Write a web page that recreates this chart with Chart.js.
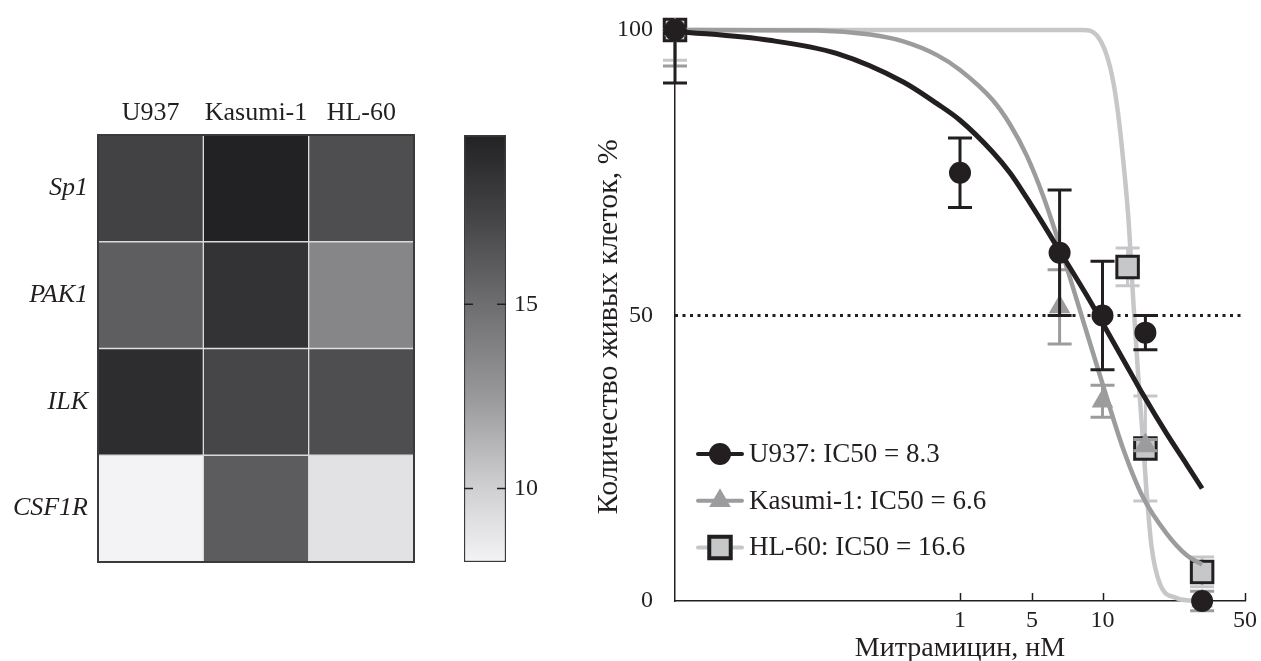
<!DOCTYPE html>
<html>
<head>
<meta charset="utf-8">
<script src="https://cdn.jsdelivr.net/npm/chart.js@4.4.1/dist/chart.umd.min.js"></script>
<style>
  body { margin: 0; background: #fff; width: 1261px; height: 661px; overflow: hidden; position: relative; }
  canvas { position: absolute; top: 0; }
  #heat { left: 0; }
  #cbar { left: 440px; }
  #dose { left: 560px; }
</style>
</head>
<body>
<canvas id="heat" width="430" height="600"></canvas>
<canvas id="cbar" width="120" height="600"></canvas>
<canvas id="dose" width="701" height="661"></canvas>
<script>
// ---- heatmap ----
const cellLines = ['U937', 'Kasumi-1', 'HL-60'];
const genes = ['Sp1', 'PAK1', 'ILK', 'CSF1R'];
const sp1Vals = [17.5, 19.6, 16.8];
const pak1Vals = [15.9, 18.5, 13.6];
const ilkVals = [18.9, 17.3, 16.8];
const csf1rVals = [8.0, 16.0, 9.0];

// colour bar
const cbMin = 8.0, cbMax = 19.6;
const cbTicks = [10, 15];
const cmapVals = [8, 10, 12.5, 15, 17.5, 19.6];
const cmapGray = [243, 208, 152, 110, 66, 34];

// ---- dose response ----
const xTickPos = [1, 3.2, 10, 100];
const xTickLabels = ['1', '5', '10', '50'];
const yTicks = [0, 50, 100];
const halfLevel = 50;

const u937Dose = [0.01, 1, 5, 10, 20, 50];
const u937Viab = [100, 75, 61, 50, 47, 0];
const u937Err = [9.3, 6.1, 11, 9.5, 3, 0];

const kasDose = [0.01, 5, 10, 20, 50];
const kasViab = [100, 51.5, 35, 27.3, 0];
const kasErr = [6.3, 6.5, 2.8, 1, 1.7];

const hlDose = [0.01, 15, 20, 50];
const hlViab = [100, 58.5, 26.7, 5.1];
const hlErr = [5.3, 3.3, 9.2, 2.6];

// fitted curves
const u937CurveX = [0.01, 0.046, 0.136, 0.4, 0.69, 1, 1.7, 2.24, 2.94, 3.84, 5.03, 7.8, 10.1, 13.9, 19.2, 28.2, 39, 50];
const u937CurveY = [99.8, 98.2, 95.9, 90.9, 87.1, 84.2, 78.6, 75.0, 70.6, 66.0, 61.2, 53.4, 48.5, 42.4, 36.2, 29.3, 23.9, 19.7];
const kasCurveX = [0.01, 0.1, 0.234, 0.4, 0.69, 1, 1.7, 2.24, 2.94, 3.84, 5.03, 7.8, 10.1, 13.9, 19.2, 28.2, 39, 50];
const kasCurveY = [100, 99.9, 99.2, 98.0, 95.6, 93.0, 87.7, 83.5, 78.0, 70.9, 62.2, 46.8, 37.7, 26.8, 18.2, 11.8, 8.0, 6.4];
const hlCurveX = [0.01, 7.3, 9.1, 10.7, 11.9, 12.9, 14.0, 15.2, 16.5, 17.8, 18.8, 20.4, 22.1, 25.3, 33.2, 41.1, 50];
const hlCurveY = [100, 100, 99.1, 95.6, 90.9, 85.1, 77, 67, 52, 39.5, 31.5, 19, 9.5, 3, 0.5, 0.1, 0];

const ink = '#231f20';
Chart.defaults.font.family = "'Liberation Serif', 'Times New Roman', serif";
Chart.defaults.color = ink;

function grayAt(v) {
    for (let i = 1; i < cmapVals.length; i++) {
        if (v <= cmapVals[i]) {
            const t = (v - cmapVals[i - 1]) / (cmapVals[i] - cmapVals[i - 1]);
            return cmapGray[i - 1] + t * (cmapGray[i] - cmapGray[i - 1]);
        }
    }
    return cmapGray[cmapGray.length - 1];
}
function cellColor(v) {
    const g = Math.round(grayAt(Math.max(v, cmapVals[0])));
    return `rgb(${g},${g},${Math.min(255, g + 2)})`;
}
const pts = (xs, ys) => xs.map((x, i) => ({x: x, y: ys[i]}));

// dark frame round the heatmap
const frame = {
    id: 'frame',
    afterDatasetsDraw(chart) {
        const {ctx, chartArea: a} = chart;
        ctx.save();
        ctx.strokeStyle = '#3a3a3a';
        ctx.lineWidth = 2;
        ctx.strokeRect(a.left, a.top, a.right - a.left, a.bottom - a.top);
        ctx.restore();
    }
};

const heatRows = [sp1Vals, pak1Vals, ilkVals, csf1rVals];
new Chart(document.getElementById('heat'), {
    type: 'bar',
    data: {
        labels: cellLines,
        datasets: heatRows.map((vals, r) => ({
            label: genes[r],
            data: vals.map(() => 1),
            backgroundColor: vals.map(cellColor),
            borderColor: '#dadada',
            borderWidth: 1,
            borderSkipped: false,
            barPercentage: 1,
            categoryPercentage: 1
        }))
    },
    options: {
        responsive: false, animation: false, devicePixelRatio: 1,
        layout: {autoPadding: false, padding: {left: 0, right: 16, top: 0, bottom: 38}},
        plugins: {legend: {display: false}, tooltip: {enabled: false}},
        scales: {
            x: {
                position: 'top', stacked: true,
                grid: {display: false, drawTicks: false}, border: {display: false},
                ticks: {autoSkip: false, padding: 6, font: {size: 26, lineHeight: 1.2}, maxRotation: 0},
                afterFit(s) { s.height = 135; }
            },
            y: {
                stacked: true, reverse: true, min: 0, max: 4,
                grid: {display: false, drawTicks: false}, border: {display: false},
                afterBuildTicks(s) { s.ticks = genes.map((g, i) => ({value: i + 0.5})); },
                ticks: {autoSkip: false, padding: 10, font: {size: 26, style: 'italic'}, callback: (v, i) => genes[i]},
                afterFit(s) { s.width = 98; }
            }
        }
    },
    plugins: [frame]
});

// colour bar with inward ticks on both sides
const cbTickMarks = {
    id: 'cbTickMarks',
    afterDraw(chart) {
        const {ctx, chartArea: a, scales: {y}} = chart;
        ctx.save();
        ctx.strokeStyle = ink;
        ctx.lineWidth = 1.5;
        cbTicks.forEach(v => {
            const py = y.getPixelForValue(v);
            ctx.beginPath();
            ctx.moveTo(a.left, py); ctx.lineTo(a.left + 9, py);
            ctx.moveTo(a.right - 9, py); ctx.lineTo(a.right, py);
            ctx.stroke();
        });
        ctx.restore();
    }
};

new Chart(document.getElementById('cbar'), {
    type: 'bar',
    data: {
        labels: [''],
        datasets: [{
            data: [[cbMin, cbMax]],
            backgroundColor(c) {
                const y = c.chart.scales.y;
                if (!y || !c.chart.chartArea) return '#888';
                const y0 = y.getPixelForValue(cbMin), y1 = y.getPixelForValue(cbMax);
                if (!isFinite(y0) || !isFinite(y1) || y0 === y1) return '#888';
                const g = c.chart.ctx.createLinearGradient(0, y0, 0, y1);
                cmapVals.forEach(v => {
                    g.addColorStop((v - cbMin) / (cbMax - cbMin), cellColor(v));
                });
                return g;
            },
            borderColor: '#3a3a3a',
            borderWidth: 1.5,
            borderSkipped: false,
            barPercentage: 1,
            categoryPercentage: 1
        }]
    },
    options: {
        responsive: false, animation: false, devicePixelRatio: 1,
        layout: {autoPadding: false, padding: {left: 24, right: 0, top: 135, bottom: 38}},
        plugins: {legend: {display: false}, tooltip: {enabled: false}},
        scales: {
            x: {display: false},
            y: {
                position: 'right', min: cbMin, max: cbMax,
                grid: {display: false, drawTicks: false}, border: {display: false},
                afterBuildTicks(s) { s.ticks = cbTicks.map(v => ({value: v})); },
                ticks: {padding: 8, font: {size: 24}},
                afterFit(s) { s.width = 54; }
            }
        }
    },
    plugins: [cbTickMarks]
});

// error bars, drawn just before each marker dataset
const errorBars = {
    id: 'errorBars',
    beforeDatasetDraw(chart, args) {
        const ds = chart.data.datasets[args.index];
        if (!ds.errors) return;
        const {ctx, scales: {x, y}} = chart;
        ctx.save();
        ctx.strokeStyle = ds.errorColor;
        ctx.lineWidth = 3;
        ds.data.forEach((p, i) => {
            const e = ds.errors[i];
            if (!e) return;
            const px = x.getPixelForValue(p.x);
            const top = y.getPixelForValue(Math.min(p.y + e, y.max));
            const bot = y.getPixelForValue(p.y - e);
            ctx.beginPath();
            ctx.moveTo(px, top); ctx.lineTo(px, bot);
            ctx.moveTo(px - 12, top); ctx.lineTo(px + 12, top);
            ctx.moveTo(px - 12, bot); ctx.lineTo(px + 12, bot);
            ctx.stroke();
        });
        ctx.restore();
    }
};

// inward tick marks on the x axis
const xTickMarks = {
    id: 'xTickMarks',
    afterDraw(chart) {
        const {ctx, chartArea: a, scales: {x}} = chart;
        ctx.save();
        ctx.strokeStyle = ink;
        ctx.lineWidth = 1.5;
        xTickPos.forEach(v => {
            const px = Math.round(x.getPixelForValue(v)) + 0.5;
            ctx.beginPath();
            ctx.moveTo(px, a.bottom); ctx.lineTo(px, a.bottom - 8);
            ctx.stroke();
        });
        ctx.restore();
    }
};

// legend inside the plot
const innerLegend = {
    id: 'innerLegend',
    afterDraw(chart, args, opts) {
        const {ctx} = chart;
        ctx.save();
        ctx.font = "27px 'Liberation Serif', serif";
        ctx.textBaseline = 'middle';
        chart.data.datasets.filter(d => d.errors).forEach((ds, i) => {
            const y = opts.y + i * opts.gap;
            ctx.strokeStyle = ds.errorColor;
            ctx.lineWidth = 4;
            ctx.lineCap = 'round';
            ctx.beginPath();
            ctx.moveTo(opts.x, y); ctx.lineTo(opts.x + opts.lineLen, y);
            ctx.stroke();
            ctx.lineCap = 'butt';
            ctx.fillStyle = ds.pointBackgroundColor;
            ctx.strokeStyle = ds.pointBorderColor;
            Chart.helpers.drawPoint(ctx, {
                pointStyle: ds.pointStyle, radius: ds.pointRadius,
                rotation: 0, borderWidth: ds.pointBorderWidth
            }, opts.x + opts.lineLen / 2, y);
            ctx.fillStyle = ink;
            ctx.fillText(ds.label, opts.textX, y + 1);
        });
        ctx.restore();
    }
};

const lineBase = {pointRadius: 0, borderWidth: 4.5, cubicInterpolationMode: 'monotone', fill: false, clip: false};

new Chart(document.getElementById('dose'), {
    type: 'line',
    data: {
        datasets: [
            {
                label: 'U937: IC50 = 8.3', data: pts(u937Dose, u937Viab), errors: u937Err, errorColor: ink,
                showLine: false, pointStyle: 'circle', pointRadius: 11, pointBackgroundColor: ink,
                pointBorderColor: ink, pointBorderWidth: 0, clip: false
            },
            {...lineBase, data: pts(u937CurveX, u937CurveY), borderColor: ink, borderWidth: 5},
            {
                label: 'Kasumi-1: IC50 = 6.6', data: pts(kasDose, kasViab), errors: kasErr, errorColor: '#9c9c9e',
                showLine: false, pointStyle: 'triangle', pointRadius: 12.5, pointBackgroundColor: '#9c9c9e',
                pointBorderColor: '#9c9c9e', pointBorderWidth: 0, clip: false
            },
            {...lineBase, data: pts(kasCurveX, kasCurveY), borderColor: '#9c9c9e'},
            {
                label: 'HL-60: IC50 = 16.6', data: pts(hlDose, hlViab), errors: hlErr, errorColor: '#c6c7c9',
                showLine: false, pointStyle: 'rect', pointRadius: 15.2, pointBackgroundColor: '#c6c7c9',
                pointBorderColor: ink, pointBorderWidth: 3, clip: false
            },
            {...lineBase, data: pts(hlCurveX, hlCurveY), borderColor: '#c6c7c9'},
            {
                data: [{x: 0.01, y: halfLevel}, {x: 100, y: halfLevel}], borderColor: ink,
                borderWidth: 3, borderDash: [3, 4.5], pointRadius: 0, fill: false
            }
        ]
    },
    options: {
        responsive: false, animation: false, devicePixelRatio: 1,
        layout: {autoPadding: false, padding: {left: 0, right: 16, top: 30, bottom: 0}},
        plugins: {
            legend: {display: false}, tooltip: {enabled: false},
            innerLegend: {x: 138, y: 454, gap: 46.7, lineLen: 44, textX: 189}
        },
        scales: {
            x: {
                type: 'logarithmic', min: 0.01, max: 100,
                // hidden tick marks keep the label gap without padding the plot edges
                grid: {display: false, drawTicks: true, tickLength: 5},
                border: {display: true, color: ink, width: 1.5},
                afterBuildTicks(s) { s.ticks = xTickPos.map(v => ({value: v})); },
                ticks: {autoSkip: false, maxRotation: 0, padding: 0, font: {size: 24, lineHeight: 1.2},
                    callback: (v, i) => xTickLabels[i]},
                title: {display: true, text: 'Митрамицин, нМ', font: {size: 28, lineHeight: 1}, padding: {top: 0, bottom: -2}},
                afterFit(s) { s.height = 60; }
            },
            y: {
                min: 0, max: 100,
                grid: {display: false, drawTicks: true, tickLength: 22},
                border: {display: true, color: ink, width: 1.5},
                afterBuildTicks(s) { s.ticks = yTicks.map(v => ({value: v})); },
                ticks: {padding: 0, font: {size: 24}},
                title: {display: true, text: 'Количество живых клеток, %   ', font: {size: 30, lineHeight: 1}, padding: {top: 34, bottom: 0}},
                afterFit(s) { s.width = 115; }
            }
        }
    },
    plugins: [errorBars, xTickMarks, innerLegend]
});
</script>
</body>
</html>
